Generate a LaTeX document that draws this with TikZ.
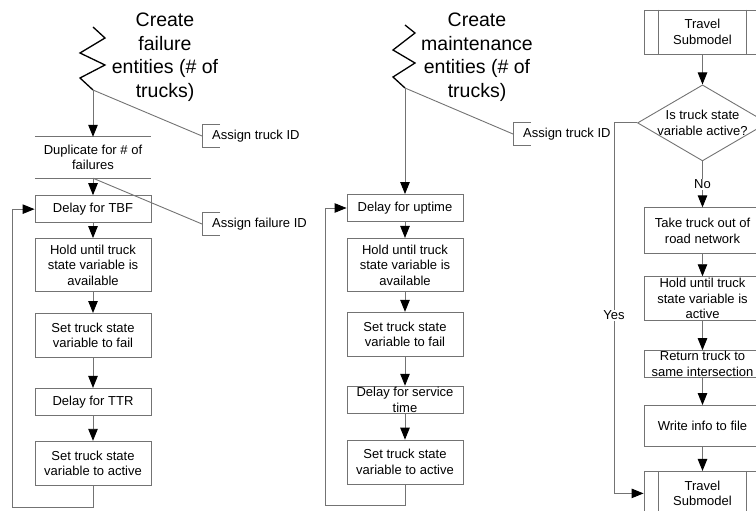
\documentclass[tikz,border=0pt]{standalone}
\usepackage{fontspec}
\setmainfont{Liberation Sans}
\usetikzlibrary{arrows.meta,positioning,shapes.geometric}

\begin{document}
\begin{tikzpicture}[x=1pt,y=-1pt,>={Triangle[length=12pt,width=9.5pt,color=black]},
  every node/.style={font=\fontsize{13}{15.5}\selectfont},
  box/.style={rectangle,draw=black!55,line width=0.9pt,minimum width=116pt,inner sep=0pt,align=center},
  one/.style={box,minimum height=27pt}, two/.style={box,minimum height=44pt},
  three/.style={box,minimum height=53pt}, wide/.style={minimum width=117pt},
  dup node/.style={minimum width=116pt,minimum height=41pt,inner sep=0pt,align=center},
  title/.style={align=center,font=\fontsize{19.5}{23.5}\selectfont},
  note/.style={anchor=west,inner xsep=10pt,inner ysep=0pt,minimum height=22pt},
  link/.style={draw=black!55,line width=0.9pt}, flow/.style={link,->},
  zig/.style={line width=1.3pt,black}]

  \useasboundingbox (0,0) rectangle (756,511);
  \clip (0,0) rectangle (756,511);

  % failure entities
  \coordinate (cf) at (93,90);
  \draw[zig] (93,27) -- (105,38) -- (80,53) -- (105,65) -- (80,78) -- (cf);
  \node[title] (tf) at (165,57) {Create\\failure\\entities (\# of\\trucks)};
  \node[dup node] (dup) at (93,157.5) {Duplicate for \# of\\failures};
  \draw[link] (dup.north west) -- (dup.north east) (dup.south west) -- (dup.south east);
  \node[one,below=17pt of dup] (tbf) {Delay for TBF};
  \node[three,below=15pt of tbf] (hold1) {Hold until truck\\state variable is\\available};
  \node[two,below=21pt of hold1] (fail1) {Set truck state\\variable to fail};
  \node[one,below=30pt of fail1] (ttr) {Delay for TTR};
  \node[two,below=25pt of ttr] (act1) {Set truck state\\variable to active};
  \node[note] (tid1) at (202,136) {Assign truck ID};
  \node[note] (fid) at (202,224) {Assign failure ID};

  % maintenance entities
  \coordinate (cm) at (405,88);
  \draw[zig] (405,25) -- (415,33) -- (393,50) -- (415,63) -- (393,77) -- (cm);
  \node[title] (tm) at (477,57) {Create\\maintenance\\entities (\# of\\trucks)};
  \node[note] (tid2) at (513,134) {Assign truck ID};
  \node[one] (upt) at (405,208) {Delay for uptime};
  \node[three,below=16pt of upt] (hold2) {Hold until truck\\state variable is\\available};
  \node[two,below=20pt of hold2] (fail2) {Set truck state\\variable to fail};
  \node[one,below=29pt of fail2] (svc) {Delay for service\\time};
  \node[two,below=26pt of svc] (act2) {Set truck state\\variable to active};

  % travel submodel
  \node[two,wide] (trv1) at (702.5,32) {Travel\\Submodel};
  \node[diamond,draw=black!55,line width=0.9pt,minimum width=130pt,minimum height=76pt,
    inner sep=0pt,align=center,below=30pt of trv1] (dec)
    {\makebox[0pt]{Is truck state}\\\makebox[0pt]{variable active?}};
  \node[box,wide,minimum height=46pt,below=46pt of dec] (take) {Take truck out of\\road network};
  \node[two,wide,below=22pt of take] (hold3) {Hold until truck\\state variable is\\active};
  \node[one,wide,below=29pt of hold3] (ret) {Return truck to\\same intersection};
  \node[box,wide,minimum height=41pt,below=27pt of ret] (wri) {Write info to file};
  \node[two,wide,below=24pt of wri] (trv2) {Travel\\Submodel};

  \foreach \n in {tid1,fid,tid2}
    \draw[link] ([xshift=18pt]\n.north west) -- (\n.north west) -- (\n.south west) -- ([xshift=18pt]\n.south west);
  \foreach \n in {trv1,trv2}
    \draw[link] ([xshift=15pt]\n.north west) -- ([xshift=15pt]\n.south west)
                ([xshift=-15pt]\n.north east) -- ([xshift=-15pt]\n.south east);

  \draw[link] (cf) -- (tid1.west);
  \draw[link] (dup.south) -- (fid.west);
  \draw[link] (cm) -- (tid2.west);

  \draw[flow] (cf) -- (dup.north);
  \draw[flow] (dup.south) -- (tbf.north);
  \foreach \a/\b in {tbf/hold1,hold1/fail1,fail1/ttr,ttr/act1,upt/hold2,hold2/fail2,fail2/svc,svc/act2,trv1/dec,take/hold3,hold3/ret,ret/wri,wri/trv2}
    \draw[flow] (\a) -- (\b);
  \draw[flow] (act1.south) -- ++(0,22) -| ([xshift=-22pt]tbf.west) -- (tbf.west);
  \draw[flow] (cm) -- (upt.north);
  \draw[flow] (act2.south) -- ++(0,21) -| ([xshift=-21pt]upt.west) -- (upt.west);
  \draw[flow] (dec.south) -- node[fill=white,inner sep=1pt] {No} (take.north);
  \draw[flow] (dec.west) -- ++(-23,0) |- node[pos=0.26,fill=white,inner sep=1pt] {Yes} (trv2.west);
\end{tikzpicture}
\end{document}
